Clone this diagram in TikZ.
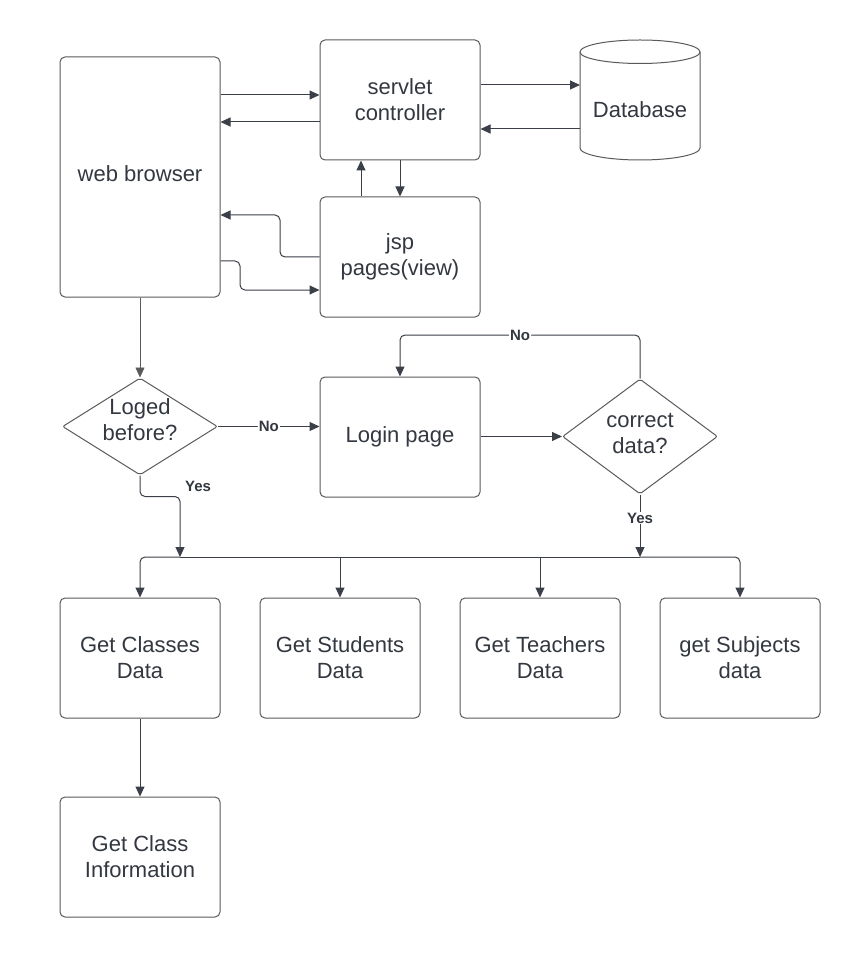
\documentclass[tikz,border=0pt]{standalone}
\usepackage{fontspec}
\setmainfont{Liberation Sans}
\usetikzlibrary{arrows.meta,shapes.geometric}
\definecolor{inkline}{HTML}{3A3F48}
\definecolor{boxline}{HTML}{5A5A5A}
\definecolor{inktext}{HTML}{333840}
\tikzset{
  txt/.style={align=center, text=inktext, font=\fontsize{22}{26}\selectfont},
  proc/.style={txt, draw=boxline, line width=1pt, rounded corners=5pt, minimum width=160pt,
    minimum height=120pt},
  tall/.style={proc, minimum height=240pt},
  decide/.style={draw=boxline, line width=1pt, diamond, inner sep=0pt,
    minimum width=155pt, minimum height=97pt, rounded corners=2pt},
  link/.style={draw=inkline, line width=1pt, rounded corners=5pt,
    -{Triangle[length=10pt,width=9pt]}},
  wire/.style={draw=inkline, line width=1pt},
  lab/.style={font=\bfseries\fontsize{15}{18}\selectfont, text=inktext, fill=white, inner sep=1pt}
}
\begin{document}
\begin{tikzpicture}[x=1pt,y=-1pt]
  \useasboundingbox (0,0) rectangle (860,957);
  \fill[white] (0,0) rectangle (860,957);

  % upper part: browser, controller, views, database
  \node[tall] (web) at (140,177) {};
  \node[txt] (webtxt) at (140,174) {web browser};
  \node[proc] (servlet) at (400,100) {servlet\\controller};
  \node[proc] (jsp) at (400,257) {jsp\\pages(view)};

  % database cylinder (y axis points down here)
  \draw[boxline, line width=1pt, fill=white]
    (580,52) -- (580,148) arc[start angle=180, end angle=0, x radius=60, y radius=12]
    -- (700,52) arc[start angle=0, end angle=-180, x radius=60, y radius=12] -- cycle;
  \draw[boxline, line width=1pt] (580,52) arc[start angle=180, end angle=0, x radius=60, y radius=11.5];
  \coordinate (dbl) at (580,100);
  \node[txt] (db) at (640,110) {Database};

  % decisions and login
  \node[decide] (loged) at (140,426.5) {};
  \node[txt] (logedtxt) at (140,420) {Loged\\before?};
  \node[proc] (login) at (400,437) {Login page};
  \node[decide, minimum height=115pt] (correct) at (640,436.5) {};
  \node[txt] (correcttxt) at (640,433) {correct\\data?};

  % data boxes
  \node[proc] (classes) at (140,658) {Get Classes\\Data};
  \node[proc] (students) at (340,658) {Get Students\\Data};
  \node[proc] (teachers) at (540,658) {Get Teachers\\Data};
  \node[proc] (subjects) at (740,658) {get Subjects\\data};
  \node[proc] (classinfo) at (140,857) {Get Class\\Information};

  % browser <-> controller
  \draw[link] (web.east |- 0,95) -- (servlet.west |- 0,95);
  \draw[link] (servlet.west |- 0,122) -- (web.east |- 0,122);
  % controller <-> database
  \draw[link] (servlet.east |- 0,85) -- (dbl |- 0,85);
  \draw[link] (dbl |- 0,129) -- (servlet.east |- 0,129);
  % controller <-> views
  \draw[link] (jsp.north -| 361,0) -- (servlet.south -| 361,0);
  \draw[link] (servlet.south -| 400,0) -- (jsp.north -| 400,0);
  % views <-> browser
  \draw[link] (jsp.west |- 0,257) -- (280,257) -- (280,215) -- (web.east |- 0,215);
  \draw[link] (web.east |- 0,261) -- (240,261) -- (240,290) -- (jsp.west |- 0,290);

  % browser to first decision
  \draw[link, draw=boxline, line width=0.6pt] (web.south) -- (loged.north);

  % login flow
  \draw[link] (loged.east) -- node[lab] {No} (login.west |- loged.east);
  \draw[link] (login.east |- correct.west) -- (correct.west);
  \draw[link] (correct.north) -- (640,335) -- node[lab, pos=0.5] {No} (400,335) -- (login.north);

  % both "Yes" branches feed one distribution bus
  \draw[link] (loged.south) -- (140,496.5) -- (180,496.5) -- (180,557);
  \node[lab] (yes1) at (198,486) {Yes};
  \draw[link] (correct.south) -- (640,557);
  \node[lab] (yes2) at (640,518) {Yes};
  \draw[wire] (180,557) -- (640,557);
  \draw[link] (180,557) -- (140,557) -- (classes.north);
  \draw[link] (340,557) -- (students.north);
  \draw[link] (540,557) -- (teachers.north);
  \draw[link] (640,557) -- (740,557) -- (subjects.north);

  \draw[link] (classes.south) -- (classinfo.north);
\end{tikzpicture}
\end{document}
